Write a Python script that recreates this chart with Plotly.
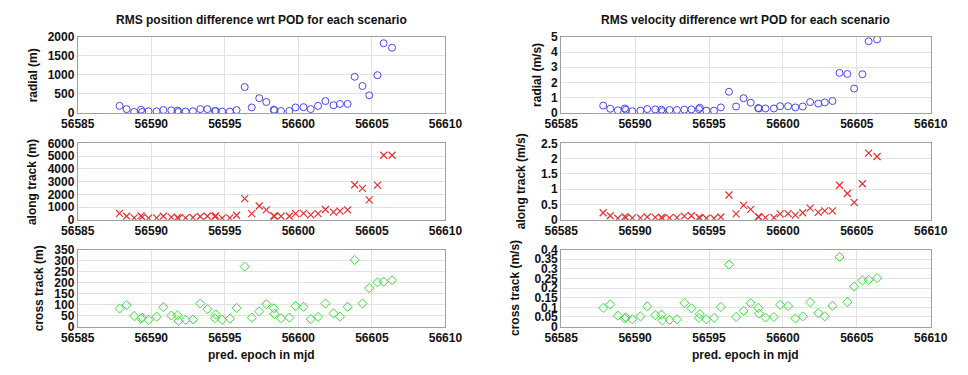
import plotly.graph_objects as go

# epochs (mjd)
epoch = [56587.84, 56588.32, 56588.83, 56589.30, 56589.38, 56589.81, 56590.36, 56590.82,
         56591.36, 56591.78, 56591.85, 56592.33, 56592.83, 56593.33, 56593.81, 56594.32,
         56594.38, 56594.82, 56595.34, 56595.80, 56596.35, 56596.83, 56597.34, 56597.82,
         56598.33, 56598.37, 56598.82, 56599.39, 56599.81, 56600.35, 56600.84, 56601.34,
         56601.84, 56602.39, 56602.83, 56603.35, 56603.83, 56604.36, 56604.82, 56605.38,
         56605.80, 56606.37]

# position differences (m)
pos_radial = [185, 100, 25, 84, 25, 42, 42, 76, 67, 59, 25, 34, 42, 100, 100, 50,
              50, 34, 34, 76, 680, 143, 387, 286, 84, 70, 50, 50, 143, 151, 100, 185,
              311, 202, 235, 235, 950, 706, 462, 992, 1832, 1714]
pos_along = [504, 277, 151, 302, 202, 126, 151, 277, 202, 176, 101, 151, 176, 252, 277, 252,
             302, 126, 151, 353, 1664, 479, 1084, 782, 302, 277, 277, 277, 479, 504, 378, 479,
             807, 605, 681, 782, 2748, 2471, 1563, 2723, 5067, 5067]
pos_cross = [82, 98, 48, 36, 41, 31, 45, 88, 50, 51, 26, 31, 32, 105, 79, 38,
             55, 31, 36, 85, 273, 41, 69, 102, 83, 58, 38, 41, 93, 90, 34, 44,
             105, 60, 45, 90, 303, 105, 175, 201, 204, 211]

# velocity differences (m/s)
vel_radial = [0.48, 0.27, 0.17, 0.29, 0.21, 0.11, 0.15, 0.25, 0.23, 0.21, 0.11, 0.19, 0.19,
              0.21, 0.23, 0.25, 0.34, 0.15, 0.15, 0.36, 1.39, 0.42, 0.97, 0.67, 0.32, 0.29,
              0.29, 0.29, 0.44, 0.44, 0.36, 0.42, 0.71, 0.61, 0.69, 0.78, 2.63, 2.56, 1.60,
              2.54, 4.71, 4.83]
vel_along = [0.23, 0.13, 0.05, 0.10, 0.07, 0.06, 0.06, 0.09, 0.08, 0.08, 0.05, 0.06, 0.07,
             0.12, 0.13, 0.08, 0.06, 0.05, 0.05, 0.09, 0.81, 0.19, 0.47, 0.34, 0.10, 0.09,
             0.07, 0.07, 0.19, 0.20, 0.15, 0.23, 0.38, 0.24, 0.29, 0.29, 1.13, 0.86, 0.57,
             1.18, 2.18, 2.07]
vel_cross = [0.097, 0.115, 0.057, 0.042, 0.048, 0.038, 0.053, 0.105, 0.060, 0.062, 0.032,
             0.035, 0.038, 0.123, 0.095, 0.045, 0.065, 0.038, 0.045, 0.102, 0.322, 0.050,
             0.082, 0.122, 0.097, 0.068, 0.047, 0.050, 0.113, 0.107, 0.042, 0.053, 0.127,
             0.070, 0.053, 0.108, 0.362, 0.127, 0.208, 0.240, 0.243, 0.252]

x_ticks = [56585, 56590, 56595, 56600, 56605, 56610]

titles = ["RMS position difference wrt POD for each scenario",
          "RMS velocity difference wrt POD for each scenario"]
y_labels_pos = ["radial (m)", "along track (m)", "cross track (m)"]
y_labels_vel = ["radial (m/s)", "along track (m/s)", "cross track (m/s)"]
y_ranges_pos = [[0, 2000], [0, 6000], [0, 350]]
y_dticks_pos = [500, 1000, 50]
y_ranges_vel = [[0, 5], [0, 2.5], [0, 0.4]]
y_dticks_vel = [1, 0.5, 0.05]
x_label = "pred. epoch in mjd"

W, H = 968, 375
colx = [(63, 444), (564, 947)]
rowy = [(31, 110), (141.7, 221), (252, 332)]
ytitle_x = [[16, 15, 23], [539, 522, 516]]

styles = [dict(symbol="circle-open", color="#4848e8", size=7),
          dict(symbol="x-thin-open", color="#e83030", size=7, line=dict(width=1.2, color="#e83030")),
          dict(symbol="diamond-open", color="#38e038", size=7)]

fig = go.Figure()
font = "Liberation Sans, Arial, sans-serif"
tfont = dict(family=font, size=12, color="#111", weight="bold")

series = [[pos_radial, pos_along, pos_cross], [vel_radial, vel_along, vel_cross]]
labels = [y_labels_pos, y_labels_vel]
ranges = [y_ranges_pos, y_ranges_vel]
dticks = [y_dticks_pos, y_dticks_vel]

idx = 0
for c in range(2):
    for r in range(3):
        idx += 1
        xa = "x" if idx == 1 else f"x{idx}"
        ya = "y" if idx == 1 else f"y{idx}"
        st = styles[r]
        mk = dict(symbol=st["symbol"], color=st["color"], size=st["size"],
                  line=st.get("line", dict(width=1, color=st["color"])))
        fig.add_trace(go.Scatter(x=epoch, y=series[c][r], mode="markers", marker=mk,
                                 xaxis=xa, yaxis=ya, showlegend=False))
        x0, x1 = colx[c]
        y0, y1 = rowy[r]
        axis_common = dict(showline=True, mirror=True, linecolor="#a0a0a0", linewidth=1,
                           showgrid=True, gridcolor="#e2e2e2", gridwidth=1,
                           ticks="", tickfont=tfont, zeroline=False)
        fig.layout[("xaxis" if idx == 1 else f"xaxis{idx}")] = dict(
            domain=[x0 / W, x1 / W], anchor=ya, range=[56585, 56610],
            tickvals=x_ticks, ticktext=[str(v) for v in x_ticks],
            **axis_common)
        fig.layout[("yaxis" if idx == 1 else f"yaxis{idx}")] = dict(
            domain=[1 - y1 / H, 1 - y0 / H], anchor=xa, range=ranges[c][r],
            dtick=dticks[c][r], tick0=0,
            **axis_common)
        # y axis title
        fig.add_annotation(text=labels[c][r], x=ytitle_x[c][r] / W, y=1 - (y0 + y1) / 2 / H,
                           xref="paper", yref="paper", showarrow=False, textangle=-90,
                           font=tfont, xanchor="center", yanchor="middle")

for c in range(2):
    x0, x1 = colx[c]
    fig.add_annotation(text=titles[c], x=(x0 + x1) / 2 / W, y=1 - 14 / H, xref="paper", yref="paper",
                       showarrow=False, font=tfont, xanchor="center", yanchor="middle")
    fig.add_annotation(text=x_label, x=(x0 + x1) / 2 / W, y=1 - 362 / H, xref="paper", yref="paper",
                       showarrow=False, font=tfont, xanchor="center", yanchor="middle")

fig.update_layout(width=W, height=H, margin=dict(l=0, r=0, t=0, b=0),
                  paper_bgcolor="white", plot_bgcolor="white",
                  font=dict(family=font, size=12, color="#111"))

fig.write_html("out.html")
